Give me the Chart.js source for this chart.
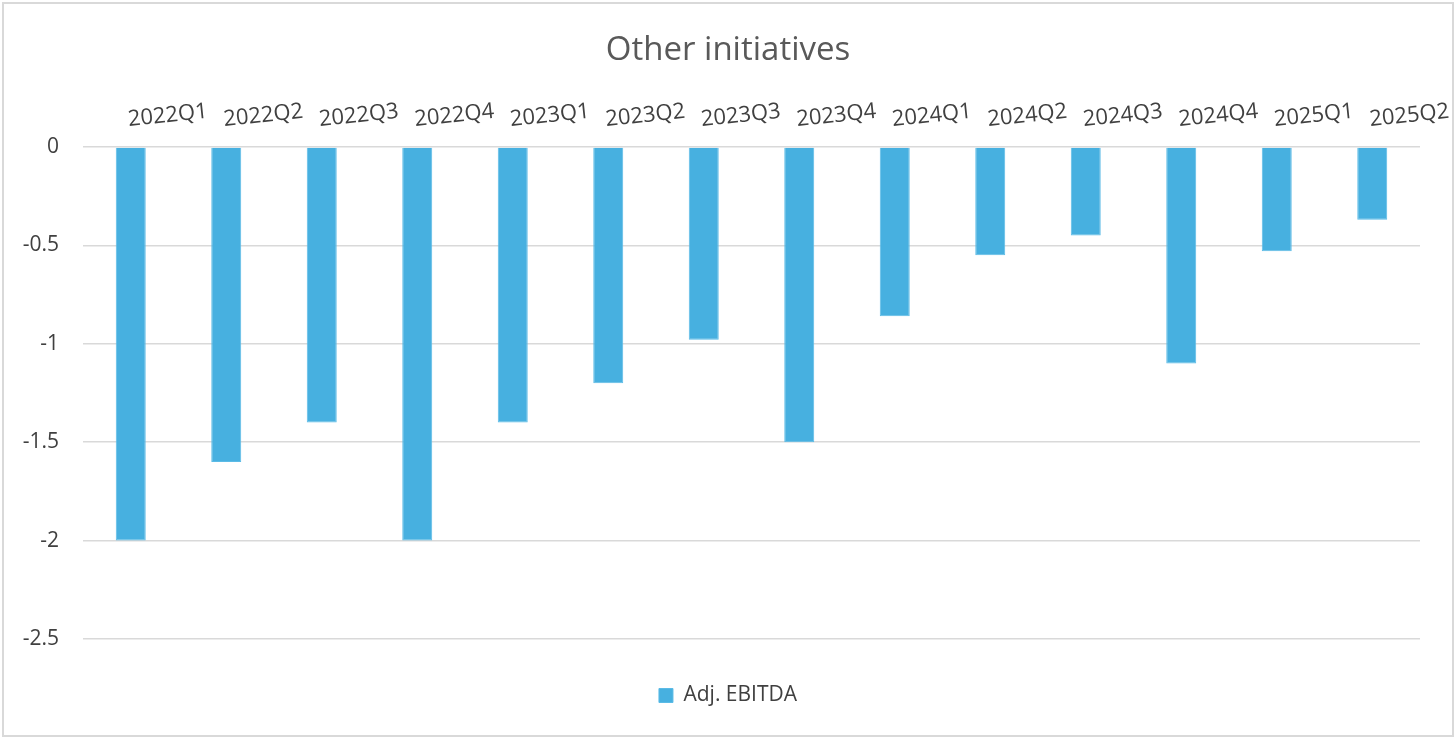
<!DOCTYPE html>
<html><head><meta charset="utf-8">
<script src="https://cdn.jsdelivr.net/npm/chart.js@4/dist/chart.umd.min.js"></script>
<style>
html,body{margin:0;padding:0;background:#fff;}
#wrap{position:relative;width:1456px;height:739px;}
#frame{position:absolute;left:2px;top:2px;width:1448px;height:731px;border:2px solid #d9d9d9;pointer-events:none;}
canvas{display:block;}
</style></head><body>
<div id="wrap"><canvas id="c" width="1456" height="739" style="width:1456px;height:739px"></canvas><div id="frame"></div></div>
<script>
const chartTitle = "Other initiatives";
const seriesName = "Adj. EBITDA";
const categories = ["2022Q1","2022Q2","2022Q3","2022Q4","2023Q1","2023Q2","2023Q3","2023Q4","2024Q1","2024Q2","2024Q3","2024Q4","2025Q1","2025Q2"];
const adjEbitda = [-2, -1.6, -1.4, -2, -1.4, -1.2, -0.98, -1.5, -0.86, -0.55, -0.45, -1.1, -0.53, -0.37];
const yMin = -2.5, yMax = 0, yStep = 0.5;

const FONT = "'Open Sans', 'Noto Sans', sans-serif";
new Chart(document.getElementById('c'), {
  type: 'bar',
  data: {
    labels: categories,
    datasets: [{
      label: seriesName,
      data: adjEbitda,
      backgroundColor: '#47B0E0',
      borderColor: '#5BBBE6',
      borderWidth: 1,
      categoryPercentage: 1,
      barPercentage: 0.314
    }]
  },
  options: {
    responsive: false,
    animation: false,
    devicePixelRatio: 1,
    layout: { padding: { left: 0, right: 0, top: 23, bottom: 23 } },
    plugins: {
      title: { display: true, text: chartTitle, color: '#595959', font: { family: FONT, size: 33, weight: 'normal' }, padding: { top: 8, bottom: 8 } },
      legend: { position: 'bottom', labels: { color: '#404040', font: { family: FONT, size: 21 }, boxWidth: 14, boxHeight: 14, padding: 46 } },
      tooltip: { enabled: false }
    },
    scales: {
      x: {
        position: 'top',
        grid: { display: false },
        border: { display: false },
        ticks: { color: '#404040', font: { family: FONT, size: 22 }, autoSkip: false, minRotation: 6, maxRotation: 6, padding: 6 },
        afterFit: s => { s.height = 68.4; s.paddingLeft = 0; s.paddingRight = 0; }
      },
      y: {
        min: yMin, max: yMax,
        grid: { color: '#d9d9d9', lineWidth: 1.5, drawTicks: false },
        border: { display: false },
        ticks: { stepSize: yStep, color: '#404040', font: { family: FONT, size: 21 }, padding: 24,
          callback: v => String(Number(v.toFixed(2))) },
        afterFit: s => { s.width = 83; }
      },
      yRight: {
        type: 'linear',
        position: 'right',
        display: true,
        grid: { display: false, drawTicks: false },
        border: { display: false },
        ticks: { display: false },
        afterFit: s => { s.width = 36; }
      }
    }
  }
});
</script>
</body></html>
